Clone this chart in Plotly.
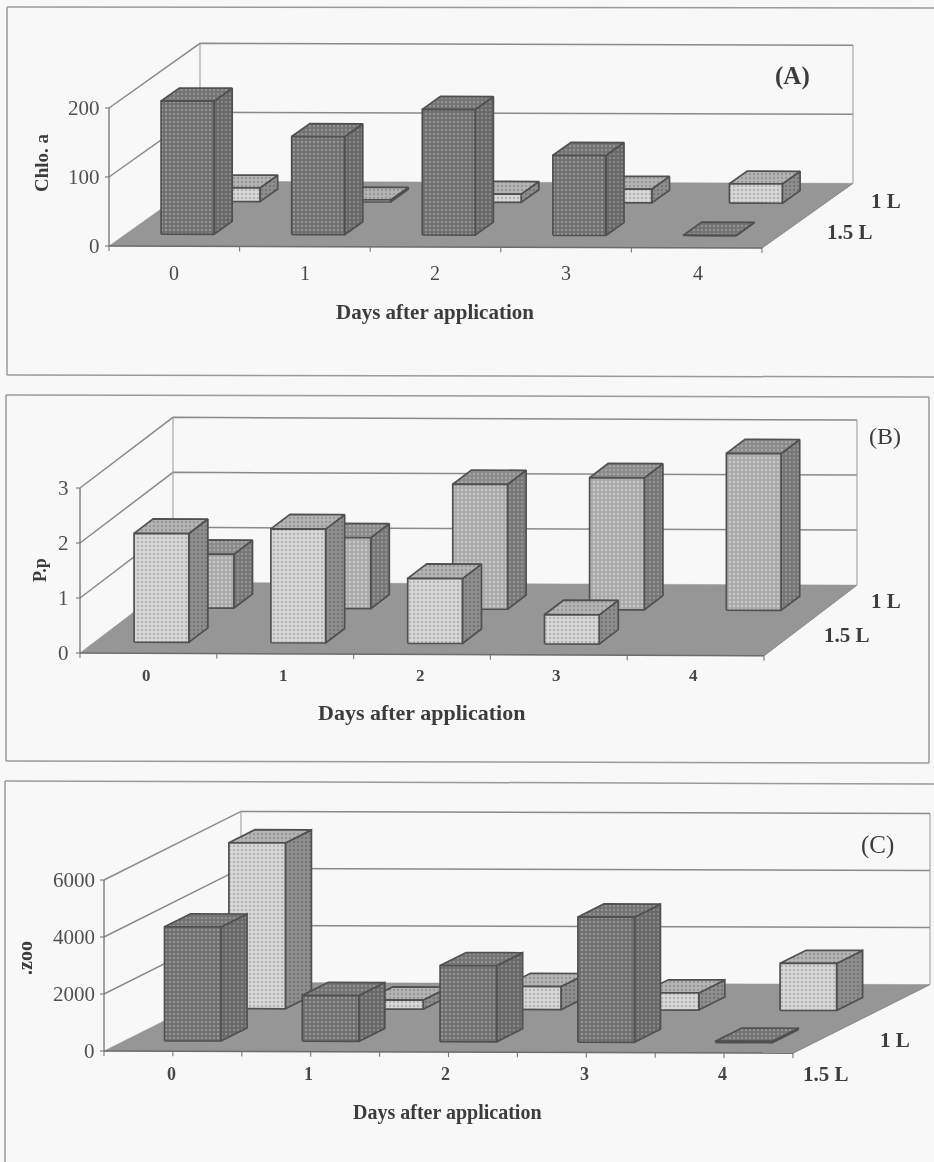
import plotly.graph_objects as go

# ---------- data ----------
days = ["0", "1", "2", "3", "4"]
series_names = ["1.5 L", "1 L"]

chlo_15 = [193, 142, 182, 116, 1]
chlo_10 = [20, 3, 12, 20, 28]
chlo_ticks = [0, 100, 200]

pp_15 = [1.98, 2.07, 1.18, 0.53, None]
pp_10 = [0.98, 1.29, 2.27, 2.40, 2.85]
pp_ticks = [0, 1, 2, 3]

zoo_15 = [4000, 1610, 2670, 4390, 50]
zoo_10 = [5820, 320, 810, 600, 1650]
zoo_ticks = [0, 2000, 4000, 6000]

# ---------- styles / geometry ----------
PAGE = "#f8f8f8"
FLOOR = "#969696"
EDGE = "#505050"
WALL = "#8a8a8a"
TXT = "#3c3c3c"
SERIF = "Liberation Serif"

TONES = {
    "dark": dict(front=("#6e6e6e", "#c0c0c0"), side=("#686868", "#a4a4a4"), top=("#737373", "#aeaeae")),
    "light": dict(front=("#d8d8d8", "#8e8e8e"), side=("#8e8e8e", "#5e5e5e"), top=("#b4b4b4", "#7c7c7c")),
    "mid": dict(front=("#a9a9a9", "#e4e4e4"), side=("#767676", "#aeaeae"), top=("#8a8a8a", "#c0c0c0")),
}

PANELS = [
    dict(x0=109, y0=246, x1=762, dx=91, dy=65, h=138, vmax=200, ticks=chlo_ticks, tilt=0.0031,
         off=0.27, w=0.405, d=[(0.185, 0.385), (0.69, 0.885)],
         s15=chlo_15, s10=chlo_10, tones=("dark", "light"), half=False,
         ylab=["0", "100", "200"], ylab_x=102, cat_y=273, cat_x=[174, 305, 435, 566, 698], cat_size=20,
         cat_bold=False, title_xy=(435, 312), title_size=21, ytitle="Chlo. a", ytitle_xy=(41, 163), ytitle_size=19,
         l1=(886, 201), l15=(850, 232), tag="(A)", tag_xy=(792, 76), tag_bold=True, tag_size=25,
         frame=[((7, 7), (934, 8)), ((7, 7), (7, 375)), ((7, 375), (934, 377))]),
    dict(x0=80, y0=653, x1=764, dx=93, dy=71, h=165, vmax=3, ticks=pp_ticks, tilt=0.0040,
         off=0.29, w=0.40, d=[(0.155, 0.36), (0.64, 0.84)],
         s15=pp_15, s10=pp_10, tones=("light", "mid"), half=False,
         ylab=["0", "1", "2", "3"], ylab_x=71, cat_y=675, cat_x=[146, 283, 420, 556, 693], cat_size=17,
         cat_bold=True, title_xy=(421, 712), title_size=22, ytitle="P.p", ytitle_xy=(40, 570), ytitle_size=18,
         l1=(886, 601), l15=(847, 635), tag="(B)", tag_xy=(885, 436), tag_bold=False, tag_size=24,
         frame=[((6, 395), (929, 397)), ((6, 395), (6, 761)), ((6, 761), (929, 763)), ((929, 397), (929, 763))]),
    dict(x0=104, y0=1051, x1=793, dx=137, dy=69, h=171, vmax=6000, ticks=zoo_ticks, tilt=0.0031,
         off=0.29, w=0.41, d=[(0.15, 0.34), (0.62, 0.81)],
         s15=zoo_15, s10=zoo_10, tones=("dark", "light"), half=True,
         ylab=["0", "2000", "4000", "6000"], ylab_x=97, cat_y=1074, cat_x=[171, 308, 445, 584, 722], cat_size=18,
         cat_bold=True, title_xy=(447, 1112), title_size=20, ytitle=".zoo", ytitle_xy=(25, 958), ytitle_size=20,
         l1=(895, 1040), l15=(826, 1074), tag="(C)", tag_xy=(877, 845), tag_bold=False, tag_size=25,
         frame=[((5, 781), (934, 784)), ((5, 781), (5, 1162))]),
]

fig = go.Figure()


def line(pts, color=WALL, width=1.3):
    fig.add_trace(go.Scatter(x=[p[0] for p in pts], y=[p[1] for p in pts], mode="lines",
                             line=dict(color=color, width=width), hoverinfo="skip", showlegend=False))


def poly(pts, color, dots=None, edge=EDGE, width=1.7):
    xs = [p[0] for p in pts] + [pts[0][0]]
    ys = [p[1] for p in pts] + [pts[0][1]]
    kw = {}
    if dots:
        kw["fillpattern"] = dict(shape=".", bgcolor=dots[0], fgcolor=dots[1], size=4, solidity=0.3)
    else:
        kw["fillcolor"] = color
    fig.add_trace(go.Scatter(x=xs, y=ys, mode="lines", fill="toself", line=dict(color=edge, width=width),
                             hoverinfo="skip", showlegend=False, **kw))


def text(s, x, y, size=17, bold=False, angle=0, anchor="center", color=TXT):
    fig.add_annotation(x=x, y=y, xref="x", yref="y", text=f"<b>{s}</b>" if bold else s, showarrow=False,
                       xanchor=anchor, yanchor="middle", textangle=angle,
                       font=dict(family=SERIF, size=size, color=color))


for P in PANELS:
    ncat = len(days)
    cw = (P["x1"] - P["x0"]) / ncat

    def proj(cat, depth, val):
        """Oblique projection of (category position, depth 0..1, value) onto the page."""
        x = P["x0"] + cat * cw + depth * P["dx"]
        y = P["y0"] - depth * P["dy"] - (val / P["vmax"]) * P["h"]
        return (x, y + P["tilt"] * (x - P["x0"]))

    for a, b in P["frame"]:
        line([a, b], color="#9a9a9a", width=1.5)

    # walls and gridlines
    for i, t in enumerate(P["ticks"]):
        if i > 0:
            line([proj(0, 0, t), proj(0, 1, t), proj(ncat, 1, t)], width=1.5)
    line([proj(0, 1, 0), proj(0, 1, P["vmax"])], color="#a0a0a0", width=1.1)
    line([proj(ncat, 1, 0), proj(ncat, 1, P["vmax"])], color="#a0a0a0", width=1.1)
    line([proj(0, 0, 0), proj(0, 0, P["vmax"])], color="#707070", width=1.3)

    # floor
    poly([proj(0, 0, 0), proj(ncat, 0, 0), proj(ncat, 1, 0), proj(0, 1, 0)], FLOOR, edge=FLOOR, width=0.5)
    line([proj(0, 0, 0), proj(ncat, 0, 0)], color="#6c6c6c", width=1.6)
    line([proj(ncat, 0, 0), proj(ncat, 1, 0)], color="#8a8a8a", width=1.0)

    # axis ticks
    step = 0.5 if P["half"] else 1
    k = 0.0
    while k <= ncat:
        x, y = proj(k, 0, 0)
        line([(x, y), (x, y + 5)], color="#777777", width=1.1)
        k += step
    for t in P["ticks"]:
        x, y = proj(0, 0, t)
        line([(x - 4, y), (x, y)], color="#777777", width=1.1)

    # bars: far series first, then near series
    for idx in (1, 0):
        vals = P["s15"] if idx == 0 else P["s10"]
        tone = TONES[P["tones"][idx]]
        d0, d1 = P["d"][idx]
        for c, v in enumerate(vals):
            if v is None:
                continue
            l = c + P["off"]
            r = l + P["w"]
            poly([proj(r, d0, 0), proj(r, d1, 0), proj(r, d1, v), proj(r, d0, v)], tone["side"][0], tone["side"])
            poly([proj(l, d0, v), proj(r, d0, v), proj(r, d1, v), proj(l, d1, v)], tone["top"][0], tone["top"])
            poly([proj(l, d0, 0), proj(r, d0, 0), proj(r, d0, v), proj(l, d0, v)], tone["front"][0], tone["front"])

    # texts
    for t, lab in zip(P["ticks"], P["ylab"]):
        _, y = proj(0, 0, t)
        text(lab, P["ylab_x"], y, size=21, anchor="right", color="#505050")
    for lab, x in zip(days, P["cat_x"]):
        text(lab, x, P["cat_y"], size=P["cat_size"], bold=P["cat_bold"], color="#484848")
    text("Days after application", P["title_xy"][0], P["title_xy"][1], size=P["title_size"], bold=True)
    text(P["ytitle"], P["ytitle_xy"][0], P["ytitle_xy"][1], size=P["ytitle_size"], bold=True, angle=-90)
    text(series_names[1], P["l1"][0], P["l1"][1], size=21, bold=True)
    text(series_names[0], P["l15"][0], P["l15"][1], size=21, bold=True)
    text(P["tag"], P["tag_xy"][0], P["tag_xy"][1], size=P["tag_size"], bold=P["tag_bold"])

fig.update_layout(
    width=934, height=1162, margin=dict(l=0, r=0, t=0, b=0),
    paper_bgcolor=PAGE, plot_bgcolor=PAGE, showlegend=False,
    xaxis=dict(visible=False, range=[0, 934], domain=[0, 1], fixedrange=True),
    yaxis=dict(visible=False, range=[1162, 0], domain=[0, 1], fixedrange=True),
)
fig.write_html(
    "out.html",
    config={"displayModeBar": False},
    post_script="document.body.style.margin='0';document.body.style.background='#f8f8f8';"
                "document.querySelector('.plotly-graph-div').style.filter='blur(0.6px)';",
)
